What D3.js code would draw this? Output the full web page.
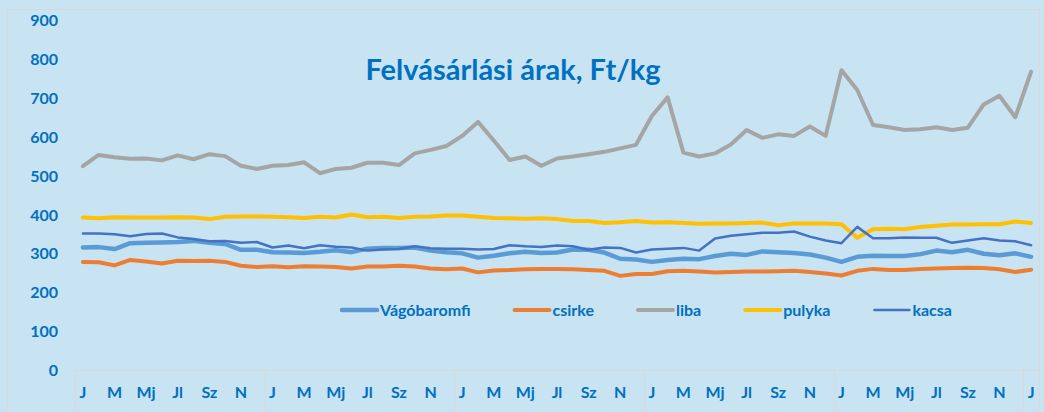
<!DOCTYPE html>
<html>
<head>
<meta charset="utf-8">
<script src="https://cdn.jsdelivr.net/npm/d3@7"></script>
<style>
  html, body { margin: 0; padding: 0; background: #C8E3F2; }
  svg { display: block; }
  text { font-family: Lato, "Open Sans", sans-serif; font-weight: bold; fill: #0070C0; }
</style>
</head>
<body>
<svg id="chart" width="1044" height="412"></svg>
<script>
const title = "Felvásárlási árak, Ft/kg";
const monthLabels = ["J","F","M","Á","Mj","Jn","Jl","Au","Sz","O","N","D"];
const yTicks = [0,100,200,300,400,500,600,700,800,900];
const seriesNames = ["Vágóbaromfi","csirke","liba","pulyka","kacsa"];
const seriesColors = ["#5B9BD5","#ED7D31","#A5A5A5","#FFC000","#4472C4"];
const seriesWidths = [4.5,4,4,4,2.5];

const vagobaromfi = [315,316,311,326,327,328,329,332,327,324,309,309,
  303,302,301,304,308,303,312,314,314,315,307,303,
  300,289,294,300,304,301,302,310,309,302,286,284,
  278,283,286,285,293,299,296,305,303,301,297,289,
  278,291,294,293,293,298,307,303,309,299,295,300,291];
const csirke = [278,277,269,283,279,274,281,280,281,278,268,265,
  267,264,267,266,265,261,266,266,268,266,261,259,
  261,251,256,257,259,260,260,259,257,255,242,247,
  247,254,255,253,251,252,253,253,254,255,252,248,
  243,255,260,257,257,260,261,262,263,262,259,252,258];
const liba = [524,553,547,543,544,539,552,542,555,550,525,517,
  525,527,534,506,517,520,533,533,527,557,566,576,
  602,638,590,540,549,525,544,549,555,561,570,579,
  653,701,559,549,557,580,617,597,606,602,626,602,
  771,720,630,624,617,619,624,617,623,683,705,650,767];
const pulyka = [392,390,393,392,392,392,393,392,388,394,395,395,
  394,393,391,394,392,400,393,394,391,394,395,397,
  397,394,391,390,389,390,388,383,383,378,380,383,
  379,380,378,376,377,377,378,379,372,377,377,377,
  375,340,362,363,362,368,371,374,374,375,375,382,378];
const kacsa = [351,351,349,344,350,351,341,337,331,332,327,329,
  315,320,313,321,317,315,307,310,311,318,313,312,
  312,310,311,321,318,316,320,318,309,315,314,302,
  310,312,314,307,338,345,349,353,353,356,343,333,
  326,368,339,339,341,340,340,327,333,339,333,331,321];

const seriesValues = [vagobaromfi, csirke, liba, pulyka, kacsa];
const n = vagobaromfi.length;
const categories = d3.range(n).map(i => monthLabels[i % 12]);

const svg = d3.select("#chart");
const plotLeft = 75, plotRight = 1039, plotTop = 20, plotBottom = 370;

// outer frame
svg.append("rect").attr("x", 7.5).attr("y", 9.5).attr("width", 1032).attr("height", 420)
  .attr("fill", "none").attr("stroke", "#D9D9D9").attr("stroke-width", 1);

const x = d3.scaleBand().domain(d3.range(n)).range([plotLeft, plotRight]).padding(0);
const cx = i => x(i) + x.bandwidth() / 2;
const y = d3.scaleLinear().domain([0, 900]).range([plotBottom, plotTop]);

// y axis labels
const yAxis = d3.axisLeft(y).tickValues(yTicks).tickSize(0).tickPadding(0);
const gy = svg.append("g").attr("transform", "translate(58,0)").call(yAxis);
gy.select(".domain").remove();
gy.selectAll("text").style("font-size", "16px").style("font-family", "Lato, sans-serif")
  .style("font-weight", "bold").attr("fill", "#0070C0").attr("dy", "0.35em");

// x axis
const xAxis = d3.axisBottom(x).tickSize(0).tickPadding(0)
  .tickFormat(i => (i % 2 === 0 ? categories[i] : ""));
const gx = svg.append("g").attr("transform", `translate(0,${plotBottom})`).call(xAxis);
gx.select(".domain").remove();
gx.selectAll("text").style("font-size", "16px").style("font-family", "Lato, sans-serif")
  .style("font-weight", "bold").attr("fill", "#0070C0").attr("y", 22).attr("dy", "0.35em");

// axis line and year separators
svg.append("line").attr("x1", plotLeft).attr("x2", plotRight).attr("y1", plotBottom + 0.5).attr("y2", plotBottom + 0.5)
  .attr("stroke", "#D9D9D9").attr("stroke-width", 1);
const seps = d3.range(0, n, 12).map(i => x(i)).concat([plotRight]);
svg.selectAll("line.sep").data(seps).join("line").attr("class", "sep")
  .attr("x1", d => Math.round(d) + 0.5).attr("x2", d => Math.round(d) + 0.5)
  .attr("y1", plotBottom).attr("y2", 412)
  .attr("stroke", "#D9D9D9").attr("stroke-width", 1);

// lines
const line = d3.line().x((d, i) => cx(i)).y(d => y(d));
seriesValues.forEach((vals, k) => {
  svg.append("path").datum(vals).attr("d", line)
    .attr("fill", "none").attr("stroke", seriesColors[k]).attr("stroke-width", seriesWidths[k])
    .attr("stroke-linejoin", "round").attr("stroke-linecap", "round");
});

// title
const t = svg.append("text").attr("x", 513).attr("y", 80).attr("text-anchor", "middle")
  .style("font-size", "28px").text(title);
const tw = t.node().getComputedTextLength();
t.style("font-size", (28 * 295 / tw).toFixed(2) + "px");

// legend
let lx = 342;
const ly = 310;
seriesNames.forEach((name, k) => {
  svg.append("line").attr("x1", lx).attr("x2", lx + 35).attr("y1", ly).attr("y2", ly)
    .attr("stroke", seriesColors[k]).attr("stroke-width", seriesWidths[k]).attr("stroke-linecap", "round");
  const tt = svg.append("text").attr("x", lx + 38).attr("y", ly).attr("dy", "0.35em")
    .style("font-size", "16px").text(name);
  lx += 38 + tt.node().getComputedTextLength() + 44;
});
</script>
</body>
</html>
